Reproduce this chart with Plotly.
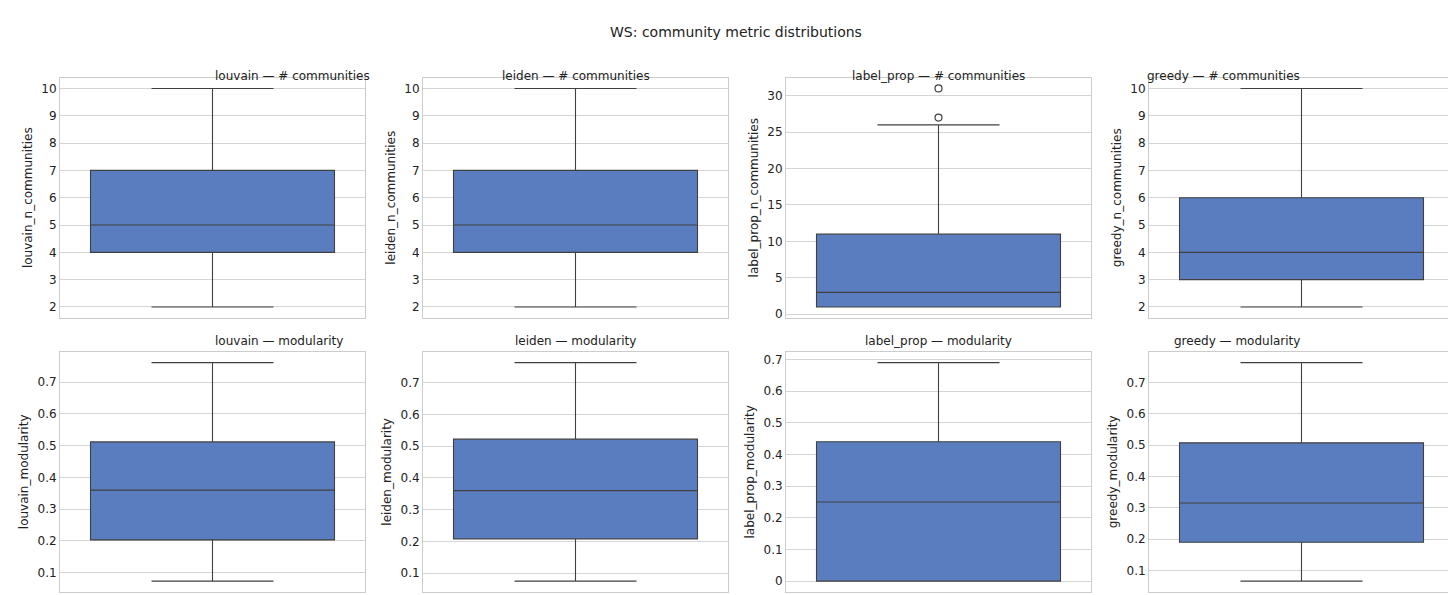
import plotly.graph_objects as go

methods = ["louvain", "leiden", "label_prop", "greedy"]

# n_communities stats: lower whisker, q1, median, q3, upper whisker
nc_low = [2, 2, 1, 2]
nc_q1 = [4, 4, 1, 3]
nc_med = [5, 5, 3, 4]
nc_q3 = [7, 7, 11, 6]
nc_high = [10, 10, 26, 10]
nc_outliers = [[], [], [27, 31], []]

mod_low = [0.073, 0.075, 0.0, 0.066]
mod_q1 = [0.203, 0.208, 0.0, 0.19]
mod_med = [0.36, 0.36, 0.25, 0.315]
mod_q3 = [0.512, 0.522, 0.44, 0.507]
mod_high = [0.762, 0.763, 0.69, 0.763]
mod_outliers = [[], [], [], []]

nc_ticks = [[2, 3, 4, 5, 6, 7, 8, 9, 10], [2, 3, 4, 5, 6, 7, 8, 9, 10],
            [0, 5, 10, 15, 20, 25, 30], [2, 3, 4, 5, 6, 7, 8, 9, 10]]
mod_ticks = [[0.1, 0.2, 0.3, 0.4, 0.5, 0.6, 0.7], [0.1, 0.2, 0.3, 0.4, 0.5, 0.6, 0.7],
             [0.0, 0.1, 0.2, 0.3, 0.4, 0.5, 0.6, 0.7], [0.1, 0.2, 0.3, 0.4, 0.5, 0.6, 0.7]]

W, H = 1456, 595
col_px = [(52, 357), (415, 720), (778, 1083), (1141, 1446)]
row_px = [(70, 312), (346, 588)]

fig = go.Figure()
font = dict(family="DejaVu Sans", size=12, color="#222")
rows = [
    ("# communities", "n_communities", nc_low, nc_q1, nc_med, nc_q3, nc_high, nc_outliers, nc_ticks),
    ("modularity", "modularity", mod_low, mod_q1, mod_med, mod_q3, mod_high, mod_outliers, mod_ticks),
]
k = 0
for r, (ttl, col, lo, q1, med, q3, hi, outs, ticks) in enumerate(rows):
    for c, m in enumerate(methods):
        k += 1
        xa = "x" if k == 1 else f"x{k}"
        ya = "y" if k == 1 else f"y{k}"
        fig.add_trace(go.Box(
            x=[0], lowerfence=[lo[c]], q1=[q1[c]], median=[med[c]], q3=[q3[c]],
            upperfence=[hi[c]], width=0.8, whiskerwidth=0.5, boxpoints=False,
            fillcolor="#5a7dbf", line=dict(color="#404040", width=1.1),
            xaxis=xa, yaxis=ya, showlegend=False, hoverinfo="skip"))
        if outs[c]:
            fig.add_trace(go.Scatter(
                x=[0] * len(outs[c]), y=outs[c], mode="markers",
                marker=dict(symbol="circle-open", size=7, color="#404040", line=dict(width=1.2)),
                xaxis=xa, yaxis=ya, showlegend=False))
        vals = [lo[c], hi[c]] + outs[c]
        vmin, vmax = min(vals), max(vals)
        pad = (vmax - vmin) * 0.05
        x0, x1 = col_px[c]
        y0, y1 = row_px[r]
        xk = "xaxis" if k == 1 else f"xaxis{k}"
        yk = "yaxis" if k == 1 else f"yaxis{k}"
        fig.layout[xk] = dict(domain=[x0 / W, x1 / W], range=[-0.5, 0.5], showticklabels=False,
                              showgrid=False, zeroline=False, showline=True, mirror=True,
                              linecolor="#cccccc", anchor=ya)
        fig.layout[yk] = dict(domain=[1 - y1 / H, 1 - y0 / H], range=[vmin - pad, vmax + pad],
                              tickvals=ticks[c], showgrid=True, gridcolor="#d5d5d5", zeroline=False,
                              showline=True, mirror=True, linecolor="#cccccc", anchor=xa,
                              title=dict(text=f"{m}_{col}", font=font, standoff=6),
                              tickfont=font, ticks="")
        fig.add_annotation(text=f"{m} — {ttl}", x=(x0 + x1) / 2 / W, y=1 - (y0 - 11) / H,
                           xref="paper", yref="paper", showarrow=False, font=font)

fig.add_annotation(text="WS: community metric distributions", x=0.5, y=1 - 14 / H,
                   xref="paper", yref="paper", showarrow=False,
                   font=dict(family="DejaVu Sans", size=14, color="#222"))
fig.update_layout(width=W, height=H, margin=dict(l=0, r=0, t=0, b=0),
                  plot_bgcolor="white", paper_bgcolor="white", font=font)
fig.write_html("out.html")
